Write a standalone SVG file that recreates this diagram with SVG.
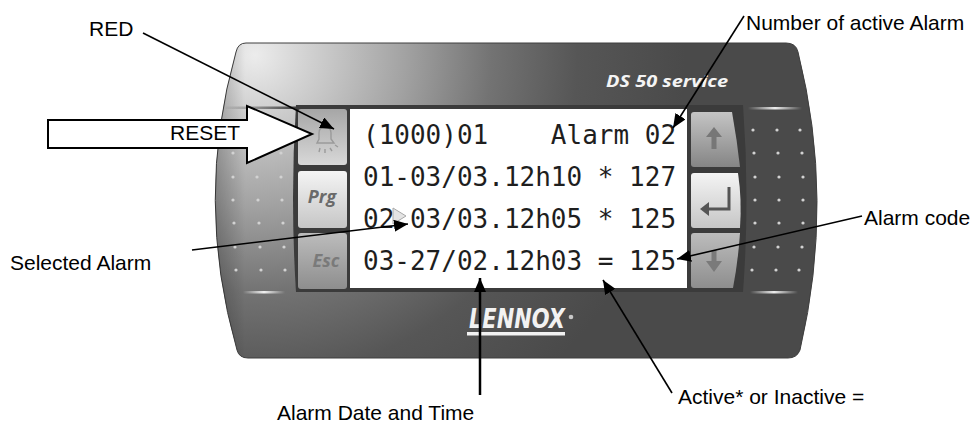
<svg xmlns="http://www.w3.org/2000/svg" width="974" height="423" viewBox="0 0 974 423">
  <defs>
    <radialGradient id="bodyShade" gradientUnits="userSpaceOnUse" cx="255" cy="55" r="430">
      <stop offset="0" stop-color="#ececec"/>
      <stop offset="0.12" stop-color="#d2d2d2"/>
      <stop offset="0.35" stop-color="#a2a2a2"/>
      <stop offset="0.55" stop-color="#737373"/>
      <stop offset="0.75" stop-color="#565656"/>
      <stop offset="1" stop-color="#4a4a4a"/>
    </radialGradient>
    <linearGradient id="rimShade" gradientUnits="userSpaceOnUse" x1="212" y1="0" x2="245" y2="0">
      <stop offset="0" stop-color="#000" stop-opacity="0.25"/>
      <stop offset="1" stop-color="#000" stop-opacity="0"/>
    </linearGradient>
    <linearGradient id="btnBell" x1="0" y1="0" x2="0" y2="1">
      <stop offset="0" stop-color="#a6a6a6"/>
      <stop offset="1" stop-color="#d8d8d8"/>
    </linearGradient>
    <linearGradient id="btnLight" x1="0" y1="0" x2="0" y2="1">
      <stop offset="0" stop-color="#f4f4f4"/>
      <stop offset="1" stop-color="#c6c6c6"/>
    </linearGradient>
    <linearGradient id="btnGrey" x1="0" y1="0" x2="0" y2="1">
      <stop offset="0" stop-color="#bcbcbc"/>
      <stop offset="1" stop-color="#8e8e8e"/>
    </linearGradient>
    <linearGradient id="btnUp" x1="0" y1="0" x2="0" y2="1">
      <stop offset="0" stop-color="#c4c4c4"/>
      <stop offset="1" stop-color="#858585"/>
    </linearGradient>
    <linearGradient id="streak" x1="0" y1="0" x2="1" y2="0">
      <stop offset="0" stop-color="#fff" stop-opacity="0"/>
      <stop offset="0.5" stop-color="#fff" stop-opacity="0.9"/>
      <stop offset="1" stop-color="#fff" stop-opacity="0"/>
    </linearGradient>
    <linearGradient id="groove" x1="0" y1="0" x2="1" y2="0">
      <stop offset="0" stop-color="#555" stop-opacity="0"/>
      <stop offset="0.6" stop-color="#555" stop-opacity="0.7"/>
      <stop offset="1" stop-color="#3b3b3b" stop-opacity="1"/>
    </linearGradient>
    <marker id="arrowHead" markerUnits="userSpaceOnUse" markerWidth="15" markerHeight="12" refX="14" refY="6" orient="auto">
      <path d="M0,0 L14,6 L0,12 Z" fill="#000"/>
    </marker>
  </defs>
  <style>
    .label{font-family:"Liberation Sans",Arial,sans-serif;font-size:21px;fill:#000}
    .lcd{font-family:"DejaVu Sans Mono","Liberation Mono",monospace;font-size:26px;fill:#1e1e1e}
    .dot{fill:#d2d2d2}
    .conn{stroke:#000;stroke-width:1.6;fill:none;marker-end:url(#arrowHead)}
    .key{font-family:"Open Sans","DejaVu Sans",sans-serif;font-weight:bold;font-style:italic;font-size:18px}
  </style>

  <!-- terminal housing -->
  <g id="device">
    <path d="M246,43 L786,43 Q796,43 798,52 Q835,200 800,350 Q797,358 788,358 L248,358 Q239,358 237,350 Q194,200 236,52 Q238,43 246,43 Z" fill="url(#bodyShade)" stroke="#3e3e3e" stroke-width="1"/>
    <path d="M246,43 L786,43 Q796,43 798,52 Q835,200 800,350 Q797,358 788,358 L248,358 Q239,358 237,350 Q194,200 236,52 Q238,43 246,43 Z" fill="url(#rimShade)"/>

    <!-- recessed frame around keys and display -->
    <path d="M296,105 L743,105 Q750,198 743,292 L296,292 Q290,198 296,105 Z" fill="#3b3b3b"/>

    <!-- highlight streaks -->
    <rect x="222" y="106.5" width="76" height="2.5" fill="url(#groove)"/>
    <rect x="243" y="291" width="42" height="2.5" fill="url(#streak)"/>
    <rect x="748" y="107" width="54" height="2.5" fill="url(#streak)"/>
    <rect x="750" y="291" width="48" height="2.5" fill="url(#streak)"/>

    <!-- speaker dots, left -->
    <g class="dot">
      <circle cx="233" cy="130" r="1.6"/><circle cx="257" cy="130" r="1.6"/><circle cx="281" cy="130" r="1.6"/>
      <circle cx="233" cy="153" r="1.6"/><circle cx="257" cy="153" r="1.6"/><circle cx="281" cy="153" r="1.6"/>
      <circle cx="233" cy="177" r="1.6"/><circle cx="257" cy="177" r="1.6"/><circle cx="281" cy="177" r="1.6"/>
      <circle cx="233" cy="200" r="1.6"/><circle cx="258" cy="200" r="1.6"/><circle cx="282" cy="200" r="1.6"/>
      <circle cx="234" cy="223" r="1.6"/><circle cx="259" cy="223" r="1.6"/><circle cx="283" cy="223" r="1.6"/>
      <circle cx="235" cy="247" r="1.6"/><circle cx="260" cy="247" r="1.6"/><circle cx="284" cy="247" r="1.6"/>
      <circle cx="236" cy="270" r="1.6"/><circle cx="261" cy="270" r="1.6"/><circle cx="285" cy="270" r="1.6"/>
    </g>
    <!-- speaker dots, right -->
    <g class="dot">
      <circle cx="753" cy="130" r="1.6"/><circle cx="777" cy="130" r="1.6"/><circle cx="800" cy="130" r="1.6"/>
      <circle cx="754" cy="153" r="1.6"/><circle cx="778" cy="153" r="1.6"/><circle cx="802" cy="153" r="1.6"/>
      <circle cx="755" cy="177" r="1.6"/><circle cx="779" cy="177" r="1.6"/><circle cx="803" cy="177" r="1.6"/>
      <circle cx="755" cy="200" r="1.6"/><circle cx="779" cy="200" r="1.6"/><circle cx="803" cy="200" r="1.6"/>
      <circle cx="755" cy="223" r="1.6"/><circle cx="779" cy="223" r="1.6"/><circle cx="803" cy="223" r="1.6"/>
      <circle cx="754" cy="247" r="1.6"/><circle cx="778" cy="247" r="1.6"/><circle cx="802" cy="247" r="1.6"/>
      <circle cx="752" cy="270" r="1.6"/><circle cx="776" cy="270" r="1.6"/><circle cx="799" cy="270" r="1.6"/>
    </g>

    <text x="606" y="87" font-family="'Open Sans','DejaVu Sans',sans-serif" font-weight="bold" font-style="italic" font-size="16" fill="#f4f4f4" textLength="122" lengthAdjust="spacingAndGlyphs">DS 50 service</text>

    <!-- brand mark -->
    <text x="469" y="328" font-family="'Liberation Sans Narrow','DejaVu Sans Condensed','Liberation Sans',sans-serif" font-weight="bold" font-style="italic" font-size="26" fill="#f2f2f2" textLength="96" lengthAdjust="spacingAndGlyphs">LENNOX</text>
    <rect x="467" y="332" width="98" height="3.5" fill="#f2f2f2"/>
    <circle cx="571" cy="317" r="2.3" fill="#c8c8c8"/>
  </g>

  <!-- left keys -->
  <g id="key-alarm">
    <rect x="298" y="109" width="49" height="56" rx="3" fill="url(#btnBell)"/>
    <path d="M317,143 L319,139 L319,133 Q319,127 325,127 Q331,127 331,133 L331,139 L334,143 Z" fill="none" stroke="#9a9a9a" stroke-width="1.4"/>
    <path d="M320,148 L319,152 M325,149 L325,153 M330,148 L332,151 M335,145 L338,147" stroke="#9a9a9a" stroke-width="1.4"/>
  </g>
  <g id="key-prg">
    <rect x="298" y="171" width="49" height="57" rx="3" fill="url(#btnLight)"/>
    <text x="322" y="203" text-anchor="middle" class="key" fill="#6a6a6a">Prg</text>
  </g>
  <g id="key-esc">
    <rect x="298" y="233" width="49" height="56" rx="3" fill="url(#btnGrey)"/>
    <text x="326" y="267" text-anchor="middle" class="key" fill="#7a7a7a">Esc</text>
  </g>

  <!-- right keys -->
  <g id="key-up">
    <path d="M694,112 L732,112 Q737,140 740,167 L694,167 Q691,167 691,164 L691,115 Q691,112 694,112 Z" fill="url(#btnUp)"/>
    <path d="M714,127 L722,137 L716.5,137 L716.5,149 L711.5,149 L711.5,137 L706,137 Z" fill="#777"/>
  </g>
  <g id="key-enter">
    <path d="M694,173 L738,173 Q742,200 740,228 L694,228 Q691,228 691,225 L691,176 Q691,173 694,173 Z" fill="url(#btnLight)"/>
    <path d="M729,187 L729,209 L707,209" fill="none" stroke="#555" stroke-width="3"/>
    <path d="M700,209 L709,202 L709,216 Z" fill="#555"/>
  </g>
  <g id="key-down">
    <path d="M694,233 L740,233 Q738,262 733,288 L694,288 Q691,288 691,285 L691,236 Q691,233 694,233 Z" fill="url(#btnGrey)"/>
    <path d="M711.5,250 L716.5,250 L716.5,261 L722,261 L714,272 L706,261 L711.5,261 Z" fill="#7a7a7a"/>
  </g>

  <!-- display -->
  <g id="display">
    <rect x="350" y="109" width="337" height="179" fill="#fff"/>
    <text class="lcd" x="363" y="144" xml:space="preserve">(1000)01    Alarm 02</text>
    <text class="lcd" x="363" y="186" xml:space="preserve">01-03/03.12h10 * 127</text>
    <text class="lcd" x="363" y="228" xml:space="preserve">02 03/03.12h05 * 125</text>
    <text class="lcd" x="363" y="270" xml:space="preserve">03-27/02.12h03 = 125</text>
    <path d="M393,208 L406,216 L393,224 Z" fill="#e4e4e4" stroke="#a8a8a8" stroke-width="1"/>
  </g>

  <!-- reset block arrow -->
  <g id="reset">
    <path d="M48,120 L247,120 L247,106 L312,134 L247,163 L247,148 L48,148 Z" fill="#fff" stroke="#000" stroke-width="2"/>
    <text class="label" x="170" y="140">RESET</text>
  </g>

  <!-- callout labels -->
  <g id="label-red"><text class="label" x="89" y="36">RED</text></g>
  <g id="label-active-count"><text class="label" x="746" y="30">Number of active Alarm</text></g>
  <g id="label-code"><text class="label" x="864" y="225">Alarm code</text></g>
  <g id="label-selected"><text class="label" x="10" y="270">Selected Alarm</text></g>
  <g id="label-date"><text class="label" x="277" y="420">Alarm Date and Time</text></g>
  <g id="label-state"><text class="label" x="678" y="404">Active* or Inactive =</text></g>

  <!-- leader lines -->
  <g id="connectors">
    <line class="conn" x1="143" y1="33" x2="334" y2="129"/>
    <line class="conn" x1="744" y1="16" x2="673" y2="128"/>
    <line class="conn" x1="862" y1="216" x2="677" y2="259"/>
    <line class="conn" x1="192" y1="250" x2="408" y2="224"/>
    <line class="conn" x1="480" y1="395" x2="480" y2="278" style="stroke-width:2.5"/>
    <line class="conn" x1="672" y1="393" x2="603" y2="280"/>
  </g>
</svg>
